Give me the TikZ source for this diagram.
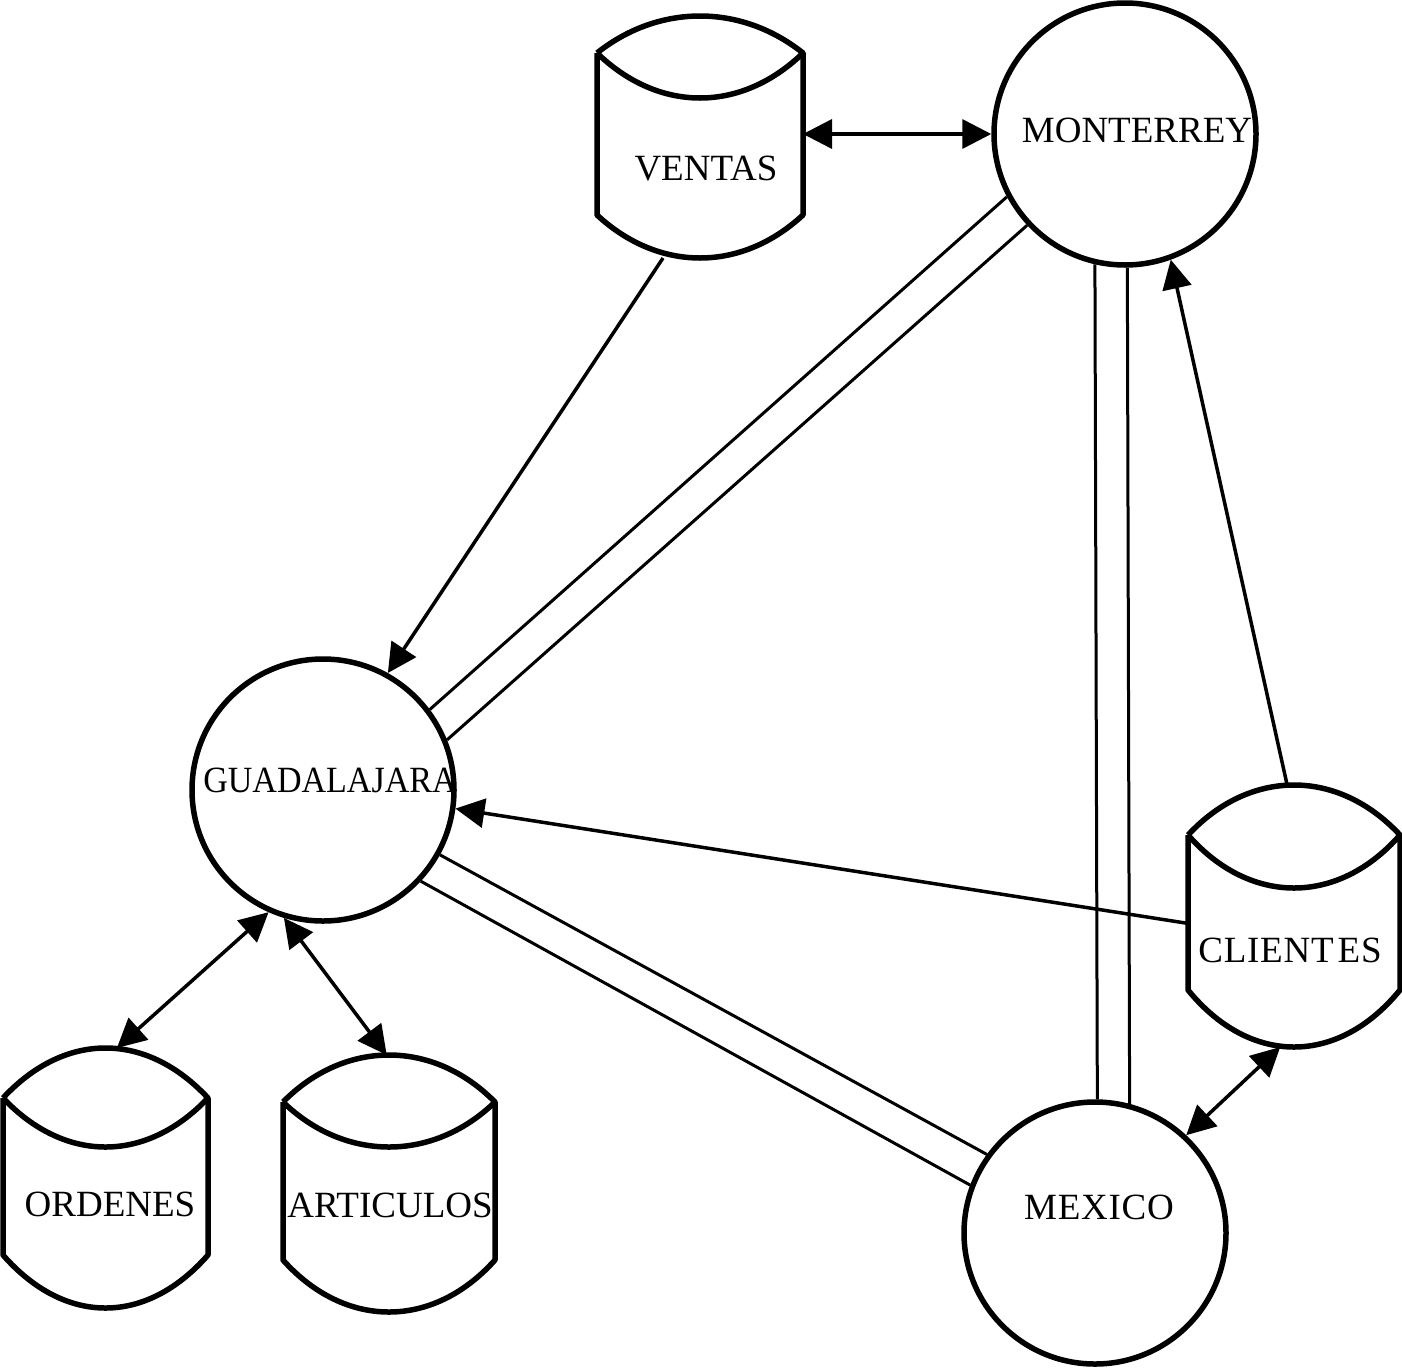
\documentclass[tikz,border=0pt]{standalone}
\usepackage{fontspec}
\setmainfont{Liberation Serif}
\usetikzlibrary{arrows.meta,calc}

\tikzset{
  site/.style={circle, draw, line width=5.5pt, minimum size=262pt, inner sep=0pt},
  store/.style={rectangle, draw=none, inner sep=0pt, outer sep=0pt},
  outline/.style={line width=5.5pt, line join=round},
  caption/.style={inner sep=0pt, font=\fontsize{37pt}{40pt}\selectfont},
  link/.style={line width=3pt},
  tip/.tip={Triangle[length=29pt,width=29pt]},
  flow/.style={line width=3.5pt, -tip},
  flows/.style={line width=3.5pt, tip-tip},
}

% Data store drawn on the box of a named node:
% #1 node name, #2 rise of the lid, #3 dip of the lid's lower edge, #4 dip of the base
\newcommand\storeshape[4]{%
  \draw[outline] ([yshift=-#2pt]#1.north west)
      .. controls +(62,-4/3*#2) and +(-62,-4/3*#2) .. ([yshift=-#2pt]#1.north east)
      .. controls +(-62,4/3*#3) and +(62,4/3*#3) .. ([yshift=-#2pt]#1.north west);
  \draw[outline] ([yshift=-#2pt]#1.north west) -- ([yshift=#4pt]#1.south west)
      .. controls +(62,4/3*#4) and +(-62,4/3*#4) .. ([yshift=#4pt]#1.south east)
      -- ([yshift=-#2pt]#1.north east);
}

\begin{document}
\begin{tikzpicture}[x=1pt,y=-1pt]
\useasboundingbox (0,0) rectangle (1402,1371);

% sites
\node[site] (mont) at (1125,134) {};
\node[site] (guad) at (323,790) {};
\node[site] (mex)  at (1095,1233) {};

% data stores
\node[store, minimum width=206pt, minimum height=242pt] (ventas) at (700,137) {};
\node[store, minimum width=205pt, minimum height=260pt] (ord)    at (105.5,1178) {};
\node[store, minimum width=212pt, minimum height=257pt] (art)    at (389,1183.5) {};
\node[store, minimum width=212pt, minimum height=262pt] (cli)    at (1294,916) {};

\storeshape{ventas}{37}{45}{43}
\storeshape{ord}{50}{49}{53}
\storeshape{art}{47}{45}{52}
\storeshape{cli}{50}{53}{57}

% communication lines between sites
\draw[link] (mont.208.1) -- (guad.37.6);
\draw[link] (mont.223)   -- (guad.22.6);
\draw[link] (mont.257.8) -- (mex.89.1);
\draw[link] (mont.271.3) -- (mex.75.7);
\draw[link] (guad.331.9) -- (mex.144.1);
\draw[link] (guad.317.3) -- (mex.159);

% data flows
\draw[flows] (mont.west -| ventas.east) -- (mont.west);
\draw[flow]  (ventas.253.9) -- (guad.61.6);
\draw[flow]  (cli.93.9)  -- (mont.290);
\draw[flow]  (cli.184.9) -- (guad.352.3);
\draw[flows] (cli.264)   -- (mex.47.9);
\draw[flows] (guad.246.7) -- (ord.85.9);
\draw[flows] (guad.253.1) -- (art.91.8);

% labels
\node[caption] (ventas-t) at (706,169) {VENTAS};
\node[caption] (mont-t)   at (1137,130) {MONTERREY};
\node[caption] (guad-t)   at (330,780) {\scalebox{0.92}[1]{GUADALAJARA}};
\node[caption] (mex-t)    at (1099,1207) {\addfontfeature{LetterSpace=2}MEXICO};
\node[caption] (ord-t)    at (110,1204) {ORDENES};
\node[caption] (art-t)    at (390,1205) {ARTICULOS};
\node[caption] (cli-t)    at (1290,950) {\addfontfeature{LetterSpace=2}CLIENT\kern4pt ES};
\end{tikzpicture}
\end{document}
